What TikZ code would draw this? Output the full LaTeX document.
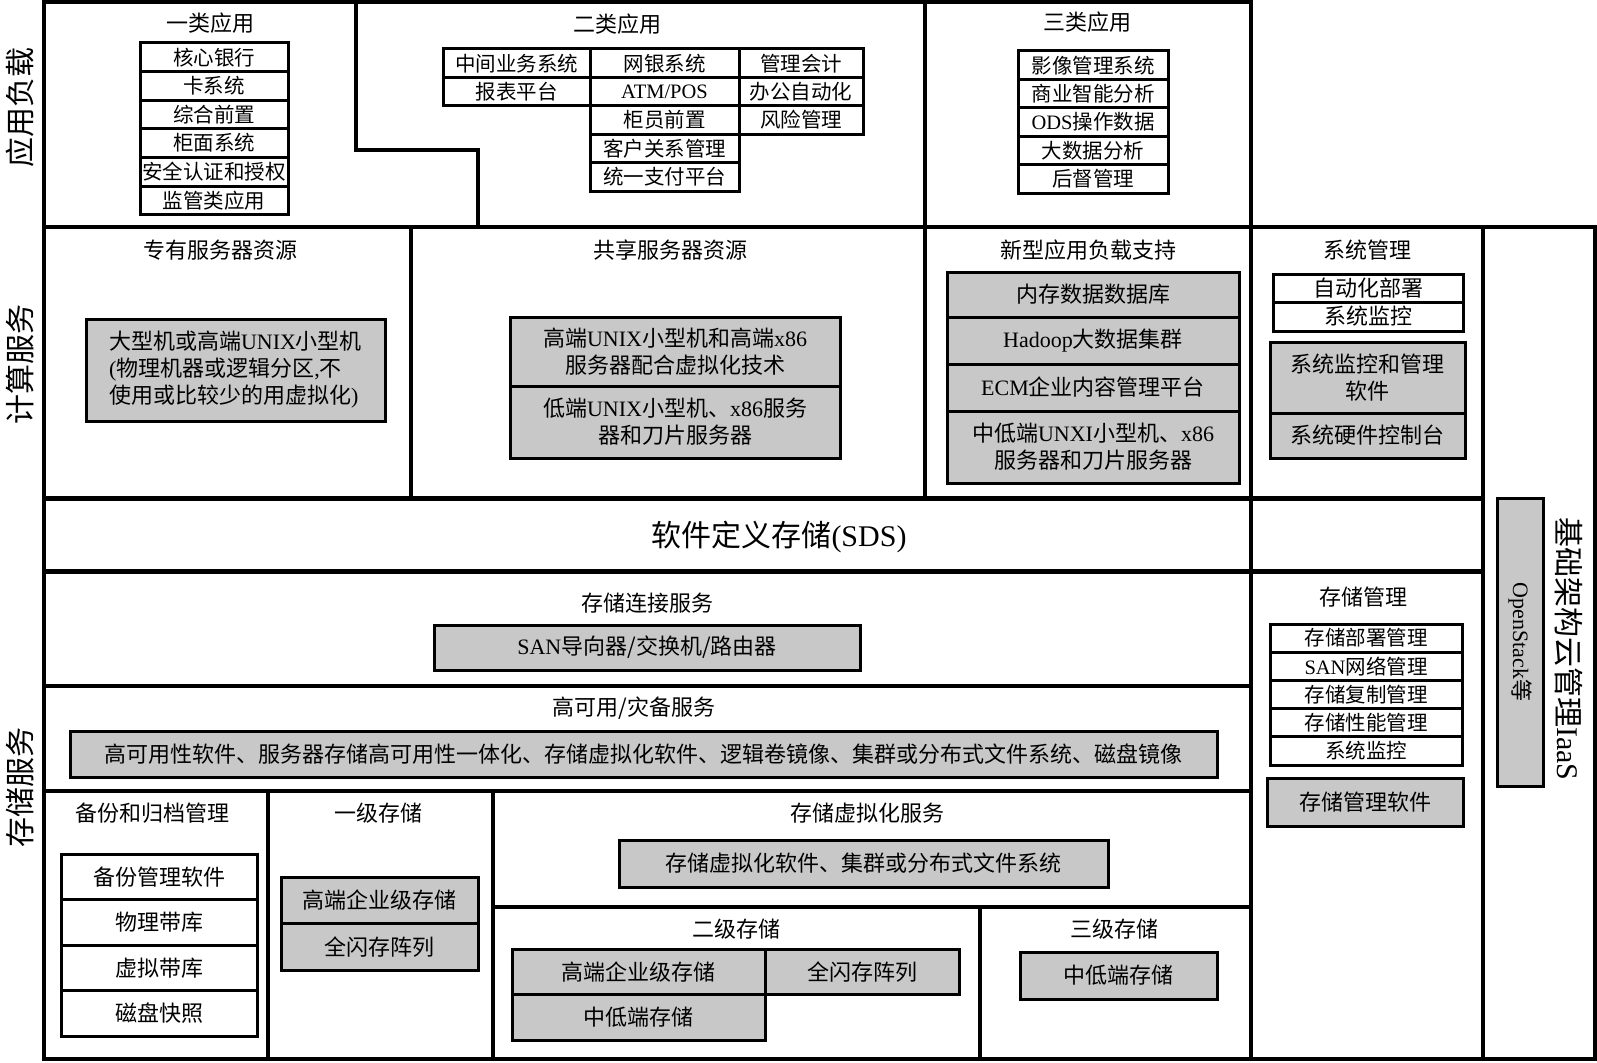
\documentclass[tikz,border=0pt]{standalone}
\usepackage{fontspec}
\setmainfont{Liberation Serif}
\newfontfamily\cjk{Noto Sans CJK SC}
\usetikzlibrary{positioning}
\definecolor{boxgray}{RGB}{200,200,200}
\newcommand{\en}[1]{{\rmfamily #1}}

\begin{document}
\begin{tikzpicture}[x=1pt,y=-1pt,
    grid/.style={line width=4pt},
    wbox/.style={draw,line width=3pt,fill=white,outer sep=0pt,inner xsep=0pt,inner ysep=1pt,
                 align=center,font=\cjk\fontsize{20.5}{24}\selectfont},
    gbox/.style={wbox,fill=boxgray,font=\cjk\fontsize{22}{27}\selectfont},
    bigw/.style={wbox,font=\cjk\fontsize{22}{27}\selectfont},
    title/.style={font=\cjk\fontsize{22}{26}\selectfont},
    side/.style={font=\cjk\fontsize{30}{34}\selectfont},
    onecol/.style={wbox,minimum width=148pt,minimum height=28.6pt},
    twoa/.style={wbox,minimum width=147pt,minimum height=28.4pt},
    twob/.style={wbox,minimum width=149pt,minimum height=28.4pt},
    twoc/.style={wbox,minimum width=124pt,minimum height=28.4pt},
    threecol/.style={wbox,minimum width=150pt,minimum height=28.4pt},
    smgr/.style={wbox,minimum width=192pt,minimum height=28.2pt},
    bkup/.style={bigw,minimum width=196pt,minimum height=45.5pt}
  ]
    \useasboundingbox[fill=white] (0,0) rectangle (1597,1062);

    \draw[grid] (44,227) -- (44,2) -- (1251,2) -- (1251,1059);
    \draw[grid] (44,227) -- (1595,227) -- (1595,1059) -- (44,1059) -- cycle;
    \draw[grid] (356,2) -- (356,150) -- (478,150) -- (478,227);
    \draw[grid] (925,2) -- (925,498);
    \draw[grid] (411,227) -- (411,498);
    \draw[grid] (1483,227) -- (1483,1059);
    \draw[grid,line width=5pt] (44,498) -- (1483,498);
    \draw[grid,line width=5pt] (44,571) -- (1483,571);
    \draw[grid] (44,686) -- (1251,686);
    \draw[grid] (44,791) -- (1251,791);
    \draw[grid] (268,791) -- (268,1059);
    \draw[grid] (493,791) -- (493,1059);
    \draw[grid] (493,907) -- (1251,907);
    \draw[grid] (980,907) -- (980,1059);

    \node[side,rotate=90] (lyapp) at (20,107) {应用负载};
    \node[side,rotate=90] (lycomp) at (20,364) {计算服务};
    \node[side,rotate=90] (lystor) at (20,787) {存储服务};

    \node[title] (tone) at (210,23) {一类应用};
    \node[onecol,anchor=north] (hexin) at (214,43) {核心银行};
    \node[onecol,below=0pt of hexin] (card) {卡系统};
    \node[onecol,below=0pt of card] (front) {综合前置};
    \node[onecol,below=0pt of front] (counter) {柜面系统};
    \node[onecol,below=0pt of counter] (auth) {安全认证和授权};
    \node[onecol,below=0pt of auth] (superv) {监管类应用};

    \node[title] (ttwo) at (617,24) {二类应用};
    \node[twoa,anchor=north] (midbiz) at (516.5,49) {中间业务系统};
    \node[twoa,below=0pt of midbiz] (report) {报表平台};
    \node[twob,right=0pt of midbiz] (ebank) {网银系统};
    \node[twob,below=0pt of ebank] (atm) {\en{ATM/POS}};
    \node[twob,below=0pt of atm] (teller) {柜员前置};
    \node[twob,below=0pt of teller] (crm) {客户关系管理};
    \node[twob,below=0pt of crm] (pay) {统一支付平台};
    \node[twoc,right=0pt of ebank] (acct) {管理会计};
    \node[twoc,below=0pt of acct] (office) {办公自动化};
    \node[twoc,below=0pt of office] (risk) {风险管理};

    \node[title] (tthree) at (1087,22) {三类应用};
    \node[threecol,anchor=north] (image) at (1093,51) {影像管理系统};
    \node[threecol,below=0pt of image] (bi) {商业智能分析};
    \node[threecol,below=0pt of bi] (ods) {\en{ODS}操作数据};
    \node[threecol,below=0pt of ods] (bigdata) {大数据分析};
    \node[threecol,below=0pt of bigdata] (audit) {后督管理};

    \node[title] (tded) at (220,250) {专有服务器资源};
    \node[gbox,align=left,minimum width=299pt,minimum height=102pt] (mainframe) at (235.5,370)
      {大型机或高端\en{UNIX}小型机\\\en{(}物理机器或逻辑分区\en{,}不\\使用或比较少的用虚拟化\en{)}};

    \node[title] (tshared) at (670,250) {共享服务器资源};
    \node[gbox,anchor=north,minimum width=330pt,minimum height=69pt] (highend) at (675,317)
      {高端\en{UNIX}小型机和高端\en{x86}\\服务器配合虚拟化技术};
    \node[gbox,below=0pt of highend,minimum width=330pt,minimum height=72pt] (lowend)
      {低端\en{UNIX}小型机、\en{x86}服务\\器和刀片服务器};

    \node[title] (tnew) at (1088,250) {新型应用负载支持};
    \node[gbox,anchor=north,minimum width=292pt,minimum height=45pt] (memdb) at (1093,272) {内存数据数据库};
    \node[gbox,below=0pt of memdb,minimum width=292pt,minimum height=47pt] (hadoop) {\en{Hadoop}大数据集群};
    \node[gbox,below=0pt of hadoop,minimum width=292pt,minimum height=47pt] (ecm) {\en{ECM}企业内容管理平台};
    \node[gbox,below=0pt of ecm,minimum width=292pt,minimum height=72pt] (midlow)
      {中低端\en{UNXI}小型机、\en{x86}\\服务器和刀片服务器};

    \node[title] (tsys) at (1367,250) {系统管理};
    \node[bigw,anchor=north,minimum width=190pt,minimum height=28pt] (deploy) at (1368,274) {自动化部署};
    \node[bigw,below=0pt of deploy,minimum width=190pt,minimum height=29pt] (monitor) {系统监控};
    \node[gbox,anchor=north,minimum width=195pt,minimum height=71pt] (monsoft) at (1367.5,342) {系统监控和管理\\软件};
    \node[gbox,below=0pt of monsoft,minimum width=195pt,minimum height=45pt] (console) {系统硬件控制台};

    \node[font=\cjk\fontsize{30}{34}\selectfont] (sds) at (779,537) {软件定义存储\en{(SDS)}};

    \node[gbox,rotate=-90,minimum width=288pt,minimum height=46pt] (openstack) at (1520,642) {\en{OpenStack}等};
    \node[side,rotate=-90] (iaas) at (1569,649) {基础架构云管理\en{IaaS}};

    \node[title] (tconn) at (647,603) {存储连接服务};
    \node[gbox,minimum width=426pt,minimum height=45pt] (san) at (647,647.5) {\en{SAN}导向器/交换机/路由器};

    \node[title] (tha) at (634,708) {高可用/灾备服务};
    \node[gbox,minimum width=1147pt,minimum height=46pt] (hasoft) at (643.5,754)
      {高可用性软件、服务器存储高可用性一体化、存储虚拟化软件、逻辑卷镜像、集群或分布式文件系统、磁盘镜像};

    \node[title] (tsmgr) at (1363,597) {存储管理};
    \node[smgr,anchor=north] (sdeploy) at (1366,624) {存储部署管理};
    \node[smgr,below=0pt of sdeploy] (sannet) {\en{SAN}网络管理};
    \node[smgr,below=0pt of sannet] (repl) {存储复制管理};
    \node[smgr,below=0pt of repl] (perf) {存储性能管理};
    \node[smgr,below=0pt of perf] (smon) {系统监控};
    \node[gbox,minimum width=196pt,minimum height=48pt] (smsoft) at (1365,802) {存储管理软件};

    \node[title] (tbkup) at (152,813) {备份和归档管理};
    \node[bkup,anchor=north] (bksoft) at (159,854) {备份管理软件};
    \node[bkup,below=0pt of bksoft] (ptape) {物理带库};
    \node[bkup,below=0pt of ptape] (vtape) {虚拟带库};
    \node[bkup,below=0pt of vtape] (snap) {磁盘快照};

    \node[title] (tfirst) at (378,813) {一级存储};
    \node[gbox,anchor=north,minimum width=197pt,minimum height=46.5pt] (ent1) at (379.5,877) {高端企业级存储};
    \node[gbox,below=0pt of ent1,minimum width=197pt,minimum height=46.5pt] (flash1) {全闪存阵列};

    \node[title] (tvirt) at (867,813) {存储虚拟化服务};
    \node[gbox,minimum width=489pt,minimum height=47pt] (virtsoft) at (863.5,863.5) {存储虚拟化软件、集群或分布式文件系统};

    \node[title] (tsecond) at (736,929) {二级存储};
    \node[gbox,anchor=north,minimum width=253pt,minimum height=45.5pt] (ent2) at (638.5,949) {高端企业级存储};
    \node[gbox,right=0pt of ent2,minimum width=194pt,minimum height=45.5pt] (flash2) {全闪存阵列};
    \node[gbox,below=0pt of ent2,minimum width=253pt,minimum height=45.5pt] (mid2) {中低端存储};

    \node[title] (tthird) at (1114,929) {三级存储};
    \node[gbox,minimum width=197pt,minimum height=47pt] (mid3) at (1118.5,975.5) {中低端存储};
  \end{tikzpicture}
\end{document}
